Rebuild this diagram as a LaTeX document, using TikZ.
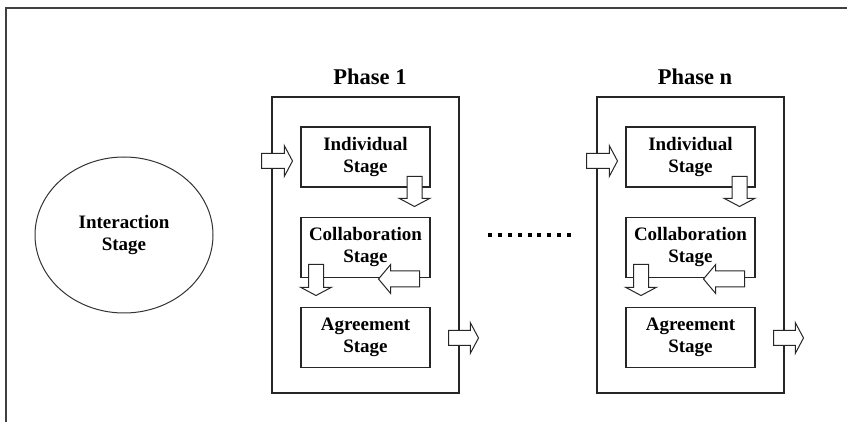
\documentclass[tikz,border=0pt]{standalone}
\usepackage{fontspec}
\setmainfont{Liberation Serif}
\usetikzlibrary{shapes.geometric,shapes.arrows,positioning}

\begin{document}
\begin{tikzpicture}[x=1pt,y=-1pt,
  stagebox/.style={draw=black!85,line width=1.3pt,minimum width=129pt,
    minimum height=60pt,inner sep=0pt,align=center,
    font=\bfseries\fontsize{19}{22}\selectfont},
  phasebox/.style={draw=black!85,line width=1.3pt,minimum width=187pt,
    minimum height=296pt,inner sep=0pt},
  fatarrow/.style={draw=black!85,fill=white,line width=1pt,single arrow,
    inner xsep=0pt,inner ysep=7pt,single arrow head extend=8pt,
    single arrow tip angle=124,minimum height=31pt,anchor=tail}]
 \useasboundingbox (0,0) rectangle (847,422);
 % outer frame, cut by the page on the right and below
 \draw[draw=black!75,line width=2pt] (847,8) -- (6,8) -- (6,422);
 \node[ellipse,draw=black!80,line width=1pt,minimum width=178pt,
   minimum height=156pt,align=center,
   font=\bfseries\fontsize{19}{22}\selectfont] (inter) at (124,235)
   {Interaction\\Stage};
 \foreach \dx/\k in {0/1,325/n}{
  \begin{scope}[shift={(\dx,0)}]
   \node[phasebox] (phase\k) at (365.5,245) {};
   \node[anchor=base,font=\bfseries\fontsize{22.5}{26}\selectfont]
     (label\k) at (370,85) {Phase \k};
   \node[stagebox] (ind\k) at (365.5,157) {Individual\\Stage};
   \node[stagebox,below=29pt of ind\k] (col\k) {Collaboration\\Stage};
   \node[stagebox,below=29pt of col\k] (agr\k) {Agreement\\Stage};
   % block arrows
   \node[fatarrow] (in\k) at (261,161) {};
   \node[fatarrow,minimum height=30pt] (out\k) at (448,338) {};
   \node[fatarrow,minimum height=30pt,rotate=-90] (down\k) at (414.5,176) {};
   \node[fatarrow,rotate=-90] (drop\k) at (316,264) {};
   \node[fatarrow,minimum height=41pt,rotate=180,
     inner ysep=7.5pt,single arrow head extend=6.5pt,
     single arrow tip angle=100] (back\k) at (420,279) {};
  \end{scope}
 }
 \coordinate (dotsL) at (488,235);
 \coordinate (dotsR) at (571,235);
 \draw[line width=4pt,dash pattern=on 4pt off 5.875pt] (dotsL) -- (dotsR);
\end{tikzpicture}
\end{document}
